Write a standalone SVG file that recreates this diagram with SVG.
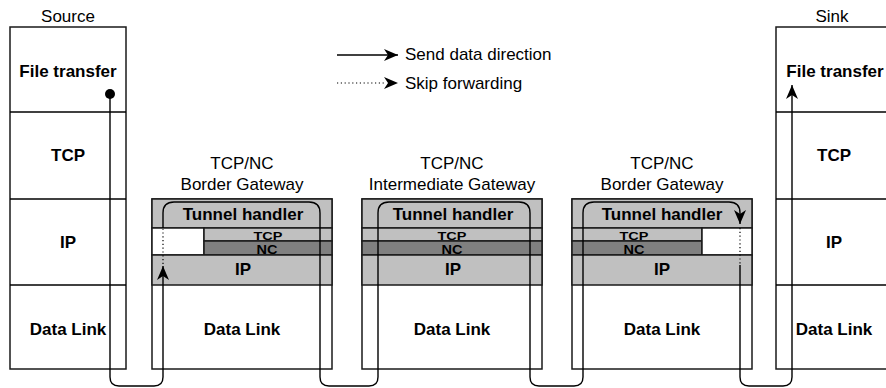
<svg xmlns="http://www.w3.org/2000/svg" width="886" height="388" viewBox="0 0 886 388">
<defs>
<marker id="arr" markerUnits="userSpaceOnUse" markerWidth="16" markerHeight="14" refX="14" refY="6" orient="auto">
<path d="M0,0 L14,6 L0,12 L4,6 z" fill="#000"/>
</marker>
</defs>
<style>
text{font-family:"Liberation Sans",Arial,sans-serif;fill:#000}
.t{font-size:17px}
.b{font-size:17px;font-weight:bold}
.s{font-size:14.5px;font-weight:bold}
.c{text-anchor:middle}
.box{fill:#fff;stroke:#1a1a1a;stroke-width:1.5}
.lg{fill:#c0c0c0;stroke:#1a1a1a;stroke-width:1.5}
.dg{fill:#808080;stroke:#1a1a1a;stroke-width:1.5}
.ln{fill:none;stroke:#000;stroke-width:1.4}
.dot{fill:none;stroke:#000;stroke-width:1.2;stroke-dasharray:1.2 2.6}
</style>

<g id="source">
<text class="t c" x="68" y="22">Source</text>
<rect class="box" x="10" y="27" width="116" height="342"/>
<line class="ln" x1="10" y1="112" x2="126" y2="112"/>
<line class="ln" x1="10" y1="199" x2="126" y2="199"/>
<line class="ln" x1="10" y1="285" x2="126" y2="285"/>
<text class="b c" x="68" y="77">File transfer</text>
<text class="b c" x="68" y="161">TCP</text>
<text class="b c" x="68" y="248">IP</text>
<text class="b c" x="68" y="335">Data Link</text>
</g>

<g id="gw1">
<text class="t c" x="242" y="169">TCP/NC</text>
<text class="t c" x="242" y="190">Border Gateway</text>
<rect class="box" x="152" y="199" width="180" height="170"/>
<rect class="lg" x="152" y="199" width="180" height="29"/>
<rect class="box" x="152" y="228" width="52" height="27"/>
<rect class="lg" x="204" y="228" width="128" height="13"/>
<rect class="dg" x="204" y="241" width="128" height="14"/>
<rect class="lg" x="152" y="255" width="180" height="30"/>
<text class="b c" x="243" y="220">Tunnel handler</text>
<text class="s c" transform="translate(268,239.5) scale(1,0.78)">TCP</text>
<text class="s c" transform="translate(267,253.5) scale(1,0.82)">NC</text>
<text class="b c" x="243" y="275">IP</text>
<text class="b c" x="242" y="335">Data Link</text>
</g>

<g id="gw2">
<text class="t c" x="452" y="169">TCP/NC</text>
<text class="t c" x="452" y="190">Intermediate Gateway</text>
<rect class="box" x="362" y="199" width="180" height="170"/>
<rect class="lg" x="362" y="199" width="180" height="29"/>
<rect class="lg" x="362" y="228" width="180" height="13"/>
<rect class="dg" x="362" y="241" width="180" height="14"/>
<rect class="lg" x="362" y="255" width="180" height="30"/>
<text class="b c" x="453" y="220">Tunnel handler</text>
<text class="s c" transform="translate(452,239.5) scale(1,0.78)">TCP</text>
<text class="s c" transform="translate(452,253.5) scale(1,0.82)">NC</text>
<text class="b c" x="453" y="275">IP</text>
<text class="b c" x="452" y="335">Data Link</text>
</g>

<g id="gw3">
<text class="t c" x="662" y="169">TCP/NC</text>
<text class="t c" x="662" y="190">Border Gateway</text>
<rect class="box" x="572" y="199" width="180" height="170"/>
<rect class="lg" x="572" y="199" width="180" height="29"/>
<rect class="lg" x="572" y="228" width="130" height="13"/>
<rect class="dg" x="572" y="241" width="130" height="14"/>
<rect class="box" x="702" y="228" width="50" height="27"/>
<rect class="lg" x="572" y="255" width="180" height="30"/>
<text class="b c" x="662" y="220">Tunnel handler</text>
<text class="s c" transform="translate(634,239.5) scale(1,0.78)">TCP</text>
<text class="s c" transform="translate(634,253.5) scale(1,0.82)">NC</text>
<text class="b c" x="662" y="275">IP</text>
<text class="b c" x="662" y="335">Data Link</text>
</g>

<g id="sink">
<text class="t c" x="832" y="22">Sink</text>
<rect class="box" x="776" y="27" width="116" height="342"/>
<line class="ln" x1="776" y1="112" x2="892" y2="112"/>
<line class="ln" x1="776" y1="199" x2="892" y2="199"/>
<line class="ln" x1="776" y1="285" x2="892" y2="285"/>
<text class="b c" x="835" y="77">File transfer</text>
<text class="b c" x="834" y="161">TCP</text>
<text class="b c" x="834" y="248">IP</text>
<text class="b c" x="834" y="335">Data Link</text>
</g>

<g id="legend">
<path class="ln" d="M337,55 H398" marker-end="url(#arr)"/>
<text class="t" x="405" y="60">Send data direction</text>
<path class="dot" d="M337,83 H386"/>
<path d="M384,77 L398,83 L384,89 L388,83 z" fill="#000"/>
<text class="t" x="405" y="89">Skip forwarding</text>
</g>

<g id="connectors">
<circle cx="110" cy="94" r="5" fill="#000"/>
<path class="ln" d="M110,94 V377 Q110,386 119,386 H154 Q163,386 163,377 V266" marker-end="url(#arr)"/>
<path class="dot" d="M163,264 V229"/>
<path class="ln" d="M163,228 V213 Q163,202 174,202 H309 Q320,202 320,213 V377 Q320,386 329,386 H369 Q378,386 378,377 V213 Q378,202 389,202 H519 Q530,202 530,213 V377 Q530,386 539,386 H574 Q583,386 583,377 V213 Q583,202 594,202 H729 Q740,202 740,213 V224" marker-end="url(#arr)"/>
<path class="dot" d="M740,228 V265"/>
<path class="ln" d="M740,265 V377 Q740,386 749,386 H783 Q792,386 792,377 V85" marker-end="url(#arr)"/>
</g>
</svg>
